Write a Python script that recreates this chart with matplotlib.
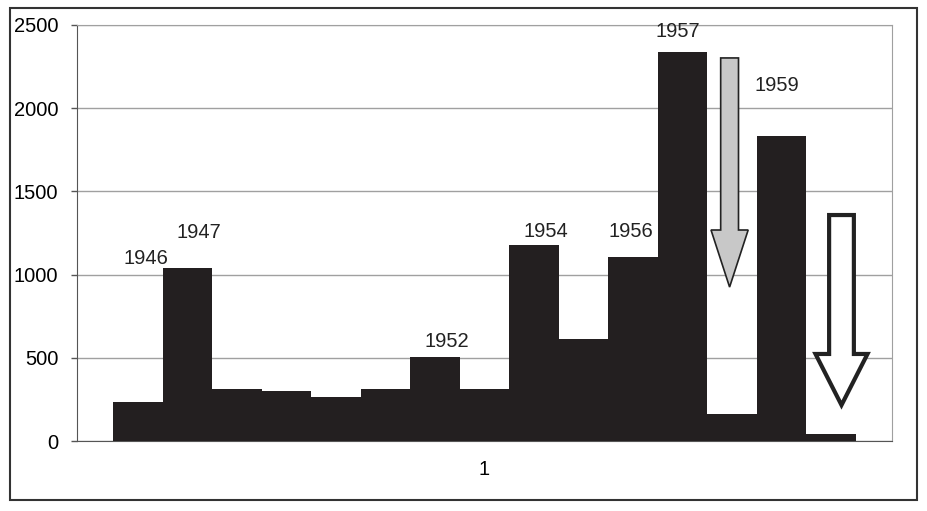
import numpy as np
import matplotlib.pyplot as plt
from matplotlib.patches import Polygon, Rectangle

plt.rcParams['font.family'] = ['Liberation Sans', 'DejaVu Sans']

# data
years = [1946, 1947, 1948, 1949, 1950, 1951, 1952, 1953,
         1954, 1955, 1956, 1957, 1958, 1959, 1960]
values = [232, 1040, 315, 300, 265, 315, 505, 315,
          1175, 615, 1105, 2340, 165, 1830, 45]
labelled_years = [1946, 1947, 1952, 1954, 1956, 1957, 1959]
yticks = [0, 500, 1000, 1500, 2000, 2500]
category = ['1']

# label placement (bar offset, y position) - layout only
label_pos = {1946: (0.17, 1094), 1947: (0.24, 1256), 1952: (0.23, 595),
             1954: (0.23, 1262), 1956: (-0.05, 1262), 1957: (-0.1, 2458),
             1959: (-0.1, 2139)}

fig = plt.figure(figsize=(9.28, 5.11), dpi=100)
ax = fig.add_axes([77/928, 70/511, 815/928, 416/511])

n = len(years)
x = np.arange(n) - (n - 1) / 2
ax.bar(x, values, width=1.0, color='#231f20', edgecolor='none', zorder=3)

ax.set_xlim(-8.23, 8.23)
ax.set_ylim(0, 2500)
ax.set_yticks(yticks)
ax.set_yticklabels([str(v) for v in yticks], fontsize=14.5)
ax.yaxis.grid(True, color='#a0a0a0', linewidth=1.0, zorder=0)
ax.set_xticks([0])
ax.set_xticklabels(category, fontsize=14.5)
ax.tick_params(axis='x', length=0, pad=14)
ax.tick_params(axis='y', length=4.5, width=1, color='#555555', pad=9)

ax.spines['left'].set_color('#555555')
ax.spines['bottom'].set_color('#555555')
ax.spines['top'].set_color('#a0a0a0')
ax.spines['right'].set_color('#a0a0a0')

for yr in labelled_years:
    i = years.index(yr)
    dx, yy = label_pos[yr]
    ax.text(x[i] + dx, yy, str(yr), ha='center', va='center', fontsize=14.5,
            color='#222222', zorder=4)

# down arrows (gray over 1958, hollow over 1960)
def down_arrow(cx, top, neck, tip, shaft_w, head_w, fc, lw):
    pts = [(cx - shaft_w/2, top), (cx + shaft_w/2, top),
           (cx + shaft_w/2, neck), (cx + head_w/2, neck),
           (cx, tip), (cx - head_w/2, neck), (cx - shaft_w/2, neck)]
    ax.add_patch(Polygon(pts, closed=True, facecolor=fc, edgecolor='#222222',
                         linewidth=lw, zorder=5, joinstyle='miter'))

down_arrow(x[years.index(1958)] - 0.05, 2302, 1268, 925, 0.36, 0.75, '#c8c8c8', 1.2)
down_arrow(x[years.index(1960)] + 0.21, 1358, 523, 216, 0.5, 1.05, 'white', 3.0)

# outer chart frame
fig.patches.append(Rectangle((10/928, 11/511), 907/928, 492/511,
                             transform=fig.transFigure, fill=False,
                             edgecolor='#333333', linewidth=1.5))

fig.savefig('out.png', dpi=100)
